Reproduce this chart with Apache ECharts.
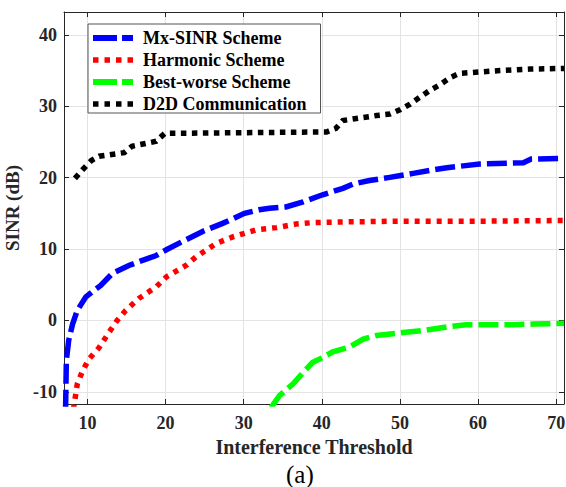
<!DOCTYPE html>
<html>
<head>
<meta charset="utf-8">
<script src="https://cdn.jsdelivr.net/npm/echarts@6/dist/echarts.min.js"></script>
<style>
  html, body { margin: 0; padding: 0; background: #ffffff; }
  #chart { width: 566px; height: 487px; }
</style>
</head>
<body>
<div id="chart"></div>
<script>
// Series names
const seriesNames = ['Mx-SINR Scheme', 'Harmonic Scheme', 'Best-worse Scheme', 'D2D Communication'];

// Tick values
const xTicks = [10, 20, 30, 40, 50, 60, 70];
const yTicks = [-10, 0, 10, 20, 30, 40];

// Mx-SINR scheme
const mxThreshold = [7.2, 7.3, 7.6, 8.1, 8.7, 9.8, 10.7, 11.7, 13.2, 15.3, 17.5, 18.8, 20.1, 22.6, 24.8, 27.3, 30.1, 32.0, 33.3, 35.4, 37.6, 40.1, 42.7, 44.0, 46.1, 48.5, 50.1, 51.7, 54.2, 56.0, 60.2, 65.8, 66.8, 71.0];
const mxSinr      = [-12.5, -5.6, -2.8, -0.5, 1.4, 3.3, 4.1, 4.9, 6.6, 7.7, 8.6, 9.1, 9.9, 11.3, 12.5, 13.6, 15.0, 15.5, 15.7, 15.9, 16.6, 17.6, 18.5, 19.1, 19.6, 20.0, 20.3, 20.6, 21.1, 21.4, 21.9, 22.1, 22.6, 22.7];

// Harmonic scheme
const harmThreshold = [8.2, 8.7, 9.4, 10.2, 11.5, 12.8, 13.8, 14.9, 16.6, 18.8, 20.1, 22.6, 23.9, 26.5, 28.6, 31.6, 34.2, 36.7, 38.8, 42.3, 50.0, 60.0, 71.0];
const harmSinr      = [-12.5, -8.9, -7.0, -5.4, -3.8, -1.6, 0.0, 1.4, 3.1, 4.7, 6.1, 7.7, 8.9, 10.8, 11.7, 12.7, 13.0, 13.5, 13.7, 13.8, 13.9, 13.9, 14.0];

// Best-worse scheme
const bwThreshold = [33.5, 34.6, 36.3, 37.6, 38.8, 40.1, 41.4, 43.6, 45.3, 47.0, 50.4, 53.0, 56.0, 58.5, 64.5, 67.1, 71.0];
const bwSinr      = [-12.2, -10.5, -8.9, -7.3, -5.9, -5.2, -4.4, -3.7, -2.6, -2.1, -1.7, -1.4, -0.9, -0.6, -0.6, -0.5, -0.4];

// D2D communication
const d2dThreshold = [8.4, 9.45, 10.5, 11.5, 14.7, 15.7, 17.5, 18.8, 19.9, 30.0, 40.6, 41.8, 42.7, 47.0, 48.7, 50.0, 51.3, 52.6, 53.8, 55.1, 56.4, 57.6, 58.9, 62.8, 66.6, 71.0];
const d2dSinr      = [19.9, 21.2, 22.4, 23.0, 23.5, 24.4, 24.8, 25.1, 26.2, 26.3, 26.4, 26.9, 28.0, 28.7, 28.9, 29.5, 30.3, 31.3, 32.2, 33.0, 34.0, 34.6, 34.7, 35.0, 35.2, 35.3];

const pairs = (xs, ys) => xs.map((x, i) => [x, ys[i]]);

const FONT = 'Liberation Serif';
const AXIS_COLOR = '#262626';
const GRID_COLOR = '#e3e3e3';

// Legend glyphs: a long and a short dash, or four square dots
const DASH_ICON = 'path://M0,0H24V6H0Z M29,0H40V6H29Z';
const DOT_ICON = 'path://M0,0H5.5V5.5H0Z M11.5,0H17V5.5H11.5Z M23,0H28.5V5.5H23Z M34.5,0H40V5.5H34.5Z';

function lineSeries(name, xs, ys, color, dash, width) {
  return {
    name: name,
    type: 'line',
    data: pairs(xs, ys),
    showSymbol: false,
    symbol: 'none',
    clip: true,
    smooth: false,
    lineStyle: { color: color, width: width, type: dash, cap: 'butt', join: 'miter' },
    itemStyle: { color: color },
    z: 3
  };
}

const xBase = {
  type: 'value', min: 7, max: 71,
  axisLine: { show: true, onZero: false, lineStyle: { color: AXIS_COLOR, width: 1 } },
  axisTick: { show: true, inside: true, length: 5, customValues: xTicks, lineStyle: { color: AXIS_COLOR } }
};
const yBase = {
  type: 'value', min: -11.7, max: 43.2,
  axisLine: { show: true, onZero: false, lineStyle: { color: AXIS_COLOR, width: 1 } },
  axisTick: { show: true, inside: true, length: 5, customValues: yTicks, lineStyle: { color: AXIS_COLOR } }
};

const chart = echarts.init(document.getElementById('chart'), null, { renderer: 'svg' });
chart.setOption({
  animation: false,
  backgroundColor: '#ffffff',
  grid: { left: 64, right: 2, top: 12, bottom: 83, containLabel: false, outerBoundsMode: 'none' },
  xAxis: [
    Object.assign({}, xBase, {
      position: 'bottom',
      name: 'Interference Threshold',
      nameLocation: 'middle',
      nameGap: 33,
      nameTextStyle: { fontFamily: FONT, fontWeight: 'bold', fontSize: 20, color: AXIS_COLOR },
      axisLabel: { show: true, customValues: xTicks, margin: 10, fontFamily: FONT, fontWeight: 'bold', fontSize: 18, color: AXIS_COLOR },
      splitLine: { show: true, lineStyle: { color: GRID_COLOR, width: 1 } }
    }),
    Object.assign({}, xBase, {
      position: 'top',
      axisLabel: { show: false },
      splitLine: { show: false }
    })
  ],
  yAxis: [
    Object.assign({}, yBase, {
      position: 'left',
      name: 'SINR (dB)',
      nameLocation: 'middle',
      nameGap: 38,
      nameTextStyle: { fontFamily: FONT, fontWeight: 'bold', fontSize: 19, color: AXIS_COLOR },
      axisLabel: { show: true, customValues: yTicks, margin: 7, fontFamily: FONT, fontWeight: 'bold', fontSize: 18, color: AXIS_COLOR },
      splitLine: { show: true, lineStyle: { color: GRID_COLOR, width: 1 } }
    }),
    Object.assign({}, yBase, {
      position: 'right',
      axisLabel: { show: false },
      splitLine: { show: false }
    })
  ],
  legend: {
    show: true,
    orient: 'vertical',
    left: 88,
    top: 24,
    padding: [5, 14, 0, 5],
    itemWidth: 40,
    itemHeight: 6,
    itemGap: 4,
    backgroundColor: '#ffffff',
    borderColor: '#555555',
    borderWidth: 1,
    borderRadius: 0,
    textStyle: { fontFamily: FONT, fontWeight: 'bold', fontSize: 18, color: '#000000', lineHeight: 16, padding: [0, 0, 0, 5] },
    data: [
      { name: seriesNames[0], icon: DASH_ICON, itemStyle: { color: '#0000ff' } },
      { name: seriesNames[1], icon: DOT_ICON, itemStyle: { color: '#ff0000' } },
      { name: seriesNames[2], icon: DASH_ICON, itemStyle: { color: '#00ff00' } },
      { name: seriesNames[3], icon: DOT_ICON, itemStyle: { color: '#000000' } }
    ],
    z: 10
  },
  graphic: [
    {
      type: 'text',
      left: 286,
      top: 462,
      style: { text: '(a)', fontFamily: FONT, fontSize: 25, fill: '#000000' }
    }
  ],
  series: [
    lineSeries(seriesNames[0], mxThreshold, mxSinr, '#0000ff', [20, 6], 5.5),
    lineSeries(seriesNames[1], harmThreshold, harmSinr, '#ff0000', [5, 6], 5.5),
    lineSeries(seriesNames[2], bwThreshold, bwSinr, '#00ff00', [20, 6], 5.5),
    lineSeries(seriesNames[3], d2dThreshold, d2dSinr, '#000000', [5.5, 5.5], 5.5)
  ]
});
</script>
</body>
</html>
